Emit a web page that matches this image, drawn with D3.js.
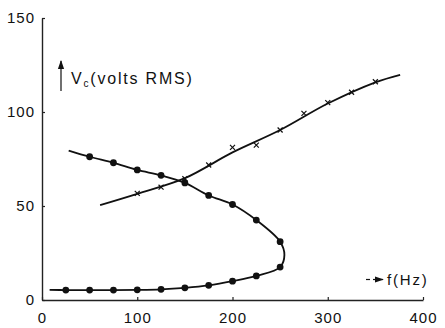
<!DOCTYPE html>
<html>
<head>
<meta charset="utf-8">
<script src="https://cdn.jsdelivr.net/npm/d3@7"></script>
<style>
  body { margin: 0; background: #fff; }
  text { font-family: "Liberation Sans", Arial, sans-serif; fill: #111; }
</style>
</head>
<body>
<div id="chart"></div>
<script>
// Measured points, dot curve (folds back at ~255 Hz)
const freqUpper = [50, 75, 100, 125, 150, 175, 200, 225, 250];
const vcUpper = [76.2, 73, 69.2, 66.3, 62.3, 55.6, 50.8, 42.5, 31];
const freqLower = [250, 225, 200, 175, 150, 125, 100, 75, 50, 25];
const vcLower = [17.5, 12.8, 10, 7.8, 6.5, 5.7, 5.4, 5.3, 5.3, 5.3];
// ends of the drawn dot curve and its turning point
const freqDotEnds = [28, 254.5, 8];
const vcDotEnds = [79.5, 24, 5.4];

// Measured points, cross curve
const freqCross = [100, 125, 150, 175, 200, 225, 250, 275, 300, 325, 350];
const vcCross = [56.7, 60, 64.5, 71.8, 81.2, 82.4, 90.4, 99.3, 105, 110.5, 116.1];
// smoothed line drawn through the crosses
const freqCrossFit = [61, 100, 150, 200, 250, 300, 350, 376];
const vcCrossFit = [50.5, 56.5, 64.8, 78.5, 90.4, 104.5, 115.8, 119.8];

const xTicks = [0, 100, 200, 300, 400];
const yTicks = [0, 50, 100, 150];

const width = 445,
    height = 328;

const svg = d3.select("#chart")
    .append("svg")
    .attr("width", width)
    .attr("height", height)
    .style("background", "#fff");

const xScale = d3.scaleLinear().domain([0, 400]).range([42, 423]);
const yScale = d3.scaleLinear().domain([0, 150]).range([300, 18]);

// axes with small inward ticks
const xAxis = svg.append("g")
    .attr("transform", `translate(0, ${yScale(0)})`)
    .call(d3.axisBottom(xScale).tickValues(xTicks).tickSizeInner(-3).tickSizeOuter(0).tickPadding(12));

const yAxis = svg.append("g")
    .attr("transform", `translate(${xScale(0)}, 0)`)
    .call(d3.axisLeft(yScale).tickValues(yTicks).tickSizeInner(-3).tickSizeOuter(0).tickPadding(7));

[xAxis, yAxis].forEach(ax => {
    ax.select(".domain").attr("stroke", "#222").attr("stroke-width", 1.4);
    ax.selectAll(".tick line").attr("stroke", "#222").attr("stroke-width", 1.2);
    ax.selectAll(".tick text")
        .style("font-family", "'Liberation Sans', Arial, sans-serif")
        .style("font-size", "15px")
        .style("letter-spacing", "1px")
        .attr("fill", "#111");
});

// build the dot curve path data
const dotPath = [[freqDotEnds[0], vcDotEnds[0]]]
    .concat(freqUpper.map((f, i) => [f, vcUpper[i]]))
    .concat([[freqDotEnds[1], vcDotEnds[1]]])
    .concat(freqLower.map((f, i) => [f, vcLower[i]]))
    .concat([[freqDotEnds[2], vcDotEnds[2]]]);

const line = d3.line()
    .x(d => xScale(d[0]))
    .y(d => yScale(d[1]))
    .curve(d3.curveCatmullRom.alpha(0.5));

svg.append("path")
    .datum(dotPath)
    .attr("d", line)
    .attr("fill", "none")
    .attr("stroke", "#111")
    .attr("stroke-width", 1.8);

svg.append("path")
    .datum(freqCrossFit.map((f, i) => [f, vcCrossFit[i]]))
    .attr("d", line)
    .attr("fill", "none")
    .attr("stroke", "#111")
    .attr("stroke-width", 1.8);

// dots
const dots = freqUpper.map((f, i) => [f, vcUpper[i]])
    .concat(freqLower.map((f, i) => [f, vcLower[i]]));

svg.selectAll("circle.dot")
    .data(dots)
    .enter()
    .append("circle")
    .attr("class", "dot")
    .attr("cx", d => xScale(d[0]))
    .attr("cy", d => yScale(d[1]))
    .attr("r", 3.4)
    .attr("fill", "#111");

// crosses
svg.selectAll("path.cross")
    .data(freqCross.map((f, i) => [f, vcCross[i]]))
    .enter()
    .append("path")
    .attr("class", "cross")
    .attr("d", d3.symbol().type(d3.symbolX).size(18))
    .attr("transform", d => `translate(${xScale(d[0])}, ${yScale(d[1])})`)
    .attr("fill", "none")
    .attr("stroke", "#111")
    .attr("stroke-width", 1.2);

// arrowhead marker
svg.append("defs").append("marker")
    .attr("id", "head")
    .attr("viewBox", "0 0 10 10")
    .attr("refX", 9)
    .attr("refY", 5)
    .attr("markerWidth", 9)
    .attr("markerHeight", 9)
    .attr("markerUnits", "userSpaceOnUse")
    .attr("orient", "auto")
    .append("path")
    .attr("d", "M0,1.5 L10,5 L0,8.5 Z")
    .attr("fill", "#111");

// y label with up arrow
svg.append("line")
    .attr("x1", 61).attr("y1", 91)
    .attr("x2", 61).attr("y2", 61)
    .attr("stroke", "#111")
    .attr("stroke-width", 1.2)
    .attr("marker-end", "url(#head)");

const yLabel = svg.append("text")
    .attr("x", 71)
    .attr("y", 84)
    .style("font-size", "16px")
    .style("letter-spacing", "1.8px");
yLabel.append("tspan").text("V");
yLabel.append("tspan").attr("dy", 3).style("font-size", "10px").text("c");
yLabel.append("tspan").attr("dy", -3).text("(volts RMS)");

// x label with right arrow
svg.append("line")
    .attr("x1", 366).attr("y1", 279.5)
    .attr("x2", 370).attr("y2", 279.5)
    .attr("stroke", "#111")
    .attr("stroke-width", 1.2);
svg.append("line")
    .attr("x1", 373).attr("y1", 279.5)
    .attr("x2", 383).attr("y2", 279.5)
    .attr("stroke", "#111")
    .attr("stroke-width", 1.2)
    .attr("marker-end", "url(#head)");

svg.append("text")
    .attr("x", 387)
    .attr("y", 285)
    .style("font-size", "15px")
    .style("letter-spacing", "1.8px")
    .text("f(Hz)");
</script>
</body>
</html>
